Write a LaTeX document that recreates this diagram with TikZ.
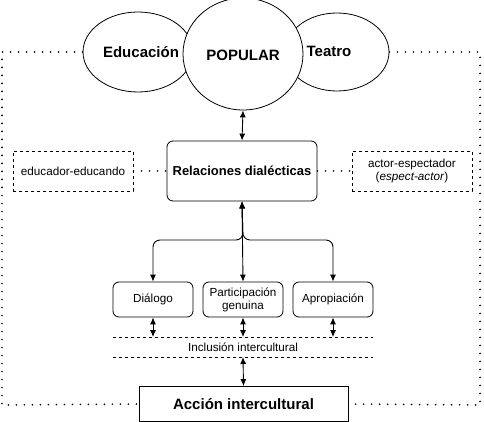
\documentclass[tikz,border=0pt]{standalone}
\usepackage{fontspec}
\setmainfont{Liberation Sans}
\usetikzlibrary{arrows.meta,shapes.geometric}
\begin{document}
\begin{tikzpicture}[x=1pt,y=-1pt,
  font=\fontsize{11.7}{13}\selectfont,
  tip/.tip={Latex[length=7pt,width=6pt]},
  dbl/.style={{tip}-{tip}, line width=0.9pt},
  dotline/.style={line width=1.8pt, line cap=round, dash pattern=on 0pt off 8pt},
  rbox/.style={draw, rounded corners=6pt, line width=0.8pt, align=center},
  dbox/.style={draw, dashed, line width=0.8pt, align=center, minimum width=120pt, minimum height=40pt},
  bigb/.style={font=\fontsize{15}{17}\selectfont\bfseries},
]
\useasboundingbox (0,0) rectangle (484,422);
% dotted frame
\coordinate (ftl) at (2,52);
\coordinate (ftr) at (480,52);
\coordinate (fbl) at (2,405);
\coordinate (fbr) at (480,405);
% ellipses
\node (edu) [draw, ellipse, line width=0.8pt, minimum width=110pt, minimum height=80pt, inner sep=0pt] at (138,52) {};
\node (tea) [draw, ellipse, line width=0.8pt, minimum width=104pt, minimum height=78pt, inner sep=0pt] at (337,52) {};
\node (pop) [draw, fill=white, ellipse, line width=0.8pt, minimum width=120pt, minimum height=112pt, inner sep=0pt] at (243,54) {};
\node[bigb] (edut) at (141,52) {Educación};
\node[bigb] (popt) at (243,55) {POPULAR};
\node[bigb] (teat) at (329,51) {Teatro};
% relaciones
\node (rel) [rbox, minimum width=150pt, minimum height=60pt, font=\fontsize{13}{15}\selectfont\bfseries] at (242,171) {Relaciones dialécticas};
\node (ee) [dbox] at (73,171) {educador-educando};
\node (ae) [dbox] at (412,171) {actor-espectador\\(\textit{espect-actor})};
\draw[dotline] (ee.east) -- (rel.west);
\draw[dotline] (rel.east) -- (ae.west);
\draw[dbl] (pop.south) -- (rel.north);
% three boxes
\node (dia) [rbox, minimum width=80pt, minimum height=35pt] at (153,299.5) {Diálogo};
\node (par) [rbox, minimum width=80pt, minimum height=35pt, inner sep=1pt] at (243,299.5) {Participación\\genuina};
\node (apr) [rbox, minimum width=80pt, minimum height=35pt] at (333,299.5) {Apropiación};
\draw[dbl, rounded corners=7pt] (rel.south) -- (243,240) -| (dia.north);
\draw[dbl] (rel.south) -- (par.north);
\draw[dbl, rounded corners=7pt] (rel.south) -- (243,240) -| (apr.north);
% inclusion band
\coordinate (l1a) at (113,337);
\coordinate (l1b) at (373,337);
\coordinate (l2a) at (113,357);
\coordinate (l2b) at (373,357);
\draw[dashed, line width=0.8pt] (l1a) -- (l1b);
\draw[dashed, line width=0.8pt] (l2a) -- (l2b);
\node (inc) at (243,347) {Inclusión intercultural};
\draw[dbl] (dia.south) -- (dia.south |- l1a);
\draw[dbl] (par.south) -- (par.south |- l1a);
\draw[dbl] (apr.south) -- (apr.south |- l1a);
% accion
\node (acc) [draw, line width=0.8pt, minimum width=209pt, minimum height=35pt, bigb] at (243.5,404) {Acción intercultural};
\draw[dbl] (243,357) -- (acc.north);
% frame
\draw[dotline] (edu.west) -- (ftl) -- (fbl) -- (acc.west);
\draw[dotline] (tea.east) -- (ftr) -- (fbr) -- (acc.east);
\end{tikzpicture}
\end{document}
